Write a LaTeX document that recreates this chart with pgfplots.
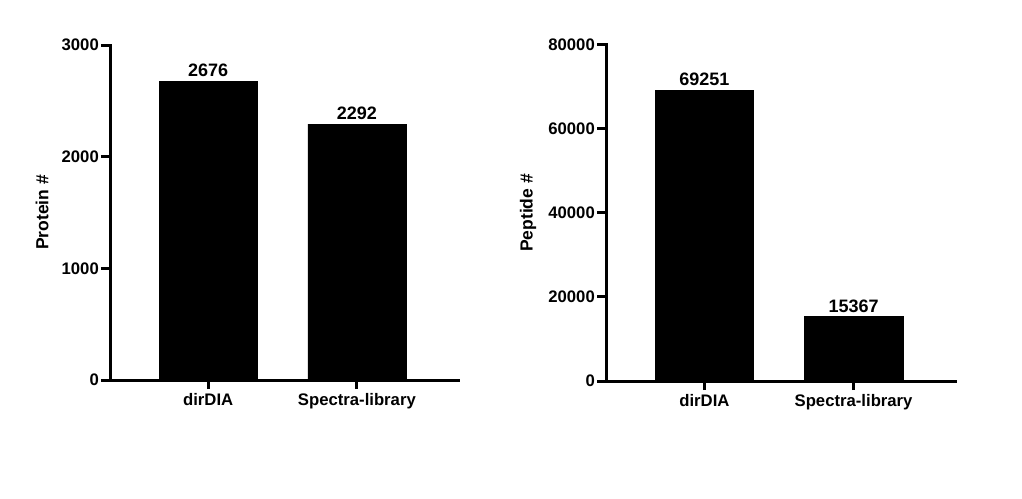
\documentclass[border=0pt]{standalone}
\usepackage{fontspec}
\setmainfont{Liberation Sans}
\usepackage{pgfplots}
\pgfplotsset{compat=1.18}

\pgfplotsset{
    prismbar/.style={
        scale only axis,
        axis lines*=left,
        axis line style={line width=3pt, line cap=rect},
        every tick/.style={line width=3pt, black},
        major tick length=9pt,
        tick align=outside,
        xtick pos=bottom, ytick pos=left,
        ymin=0,
        xmin=-0.66, xmax=1.68,
        xtick={0,1},
        xticklabels={dirDIA, Spectra-library},
        scaled y ticks=false,
        /pgf/number format/1000 sep={},
        /pgf/number format/assume math mode=true,
        tick label style={font=\bfseries\fontsize{16.7}{18}\selectfont, black},
        yticklabel style={inner sep=2pt},
        xticklabel style={inner sep=4pt},
        ybar, bar width=0.66,
        nodes near coords,
        every node near coord/.append style={font=\bfseries\fontsize{18}{20}\selectfont, inner sep=4pt,
            /pgf/number format/1000 sep={}, /pgf/number format/assume math mode=true},
    }
}

\begin{document}
\begin{tikzpicture}
\path[use as bounding box] (0pt,0pt) rectangle (1022pt,498pt);

% left panel: proteins
\begin{axis}[prismbar,
    at={(110pt,118pt)}, anchor=south west,
    width=348pt, height=335pt,
    ymax=3000, ytick={0,1000,2000,3000},
    ylabel={Protein \#},
    every axis y label/.style={at={(axis description cs:-0.195,0.5)}, rotate=90, anchor=center,
        font=\bfseries\fontsize{17.5}{20}\selectfont},
]
\addplot[fill=black, draw=black] coordinates {(0,2676) (1,2292)};
\end{axis}

% right panel: peptides
\begin{axis}[prismbar,
    at={(606pt,117pt)}, anchor=south west,
    width=349pt, height=336pt,
    ymax=80000, ytick={0,20000,40000,60000,80000},
    ylabel={Peptide \#},
    every axis y label/.style={at={(axis description cs:-0.223,0.5)}, rotate=90, anchor=center,
        font=\bfseries\fontsize{17.5}{20}\selectfont},
]
\addplot[fill=black, draw=black] coordinates {(0,69251) (1,15367)};
\end{axis}
\end{tikzpicture}
\end{document}
